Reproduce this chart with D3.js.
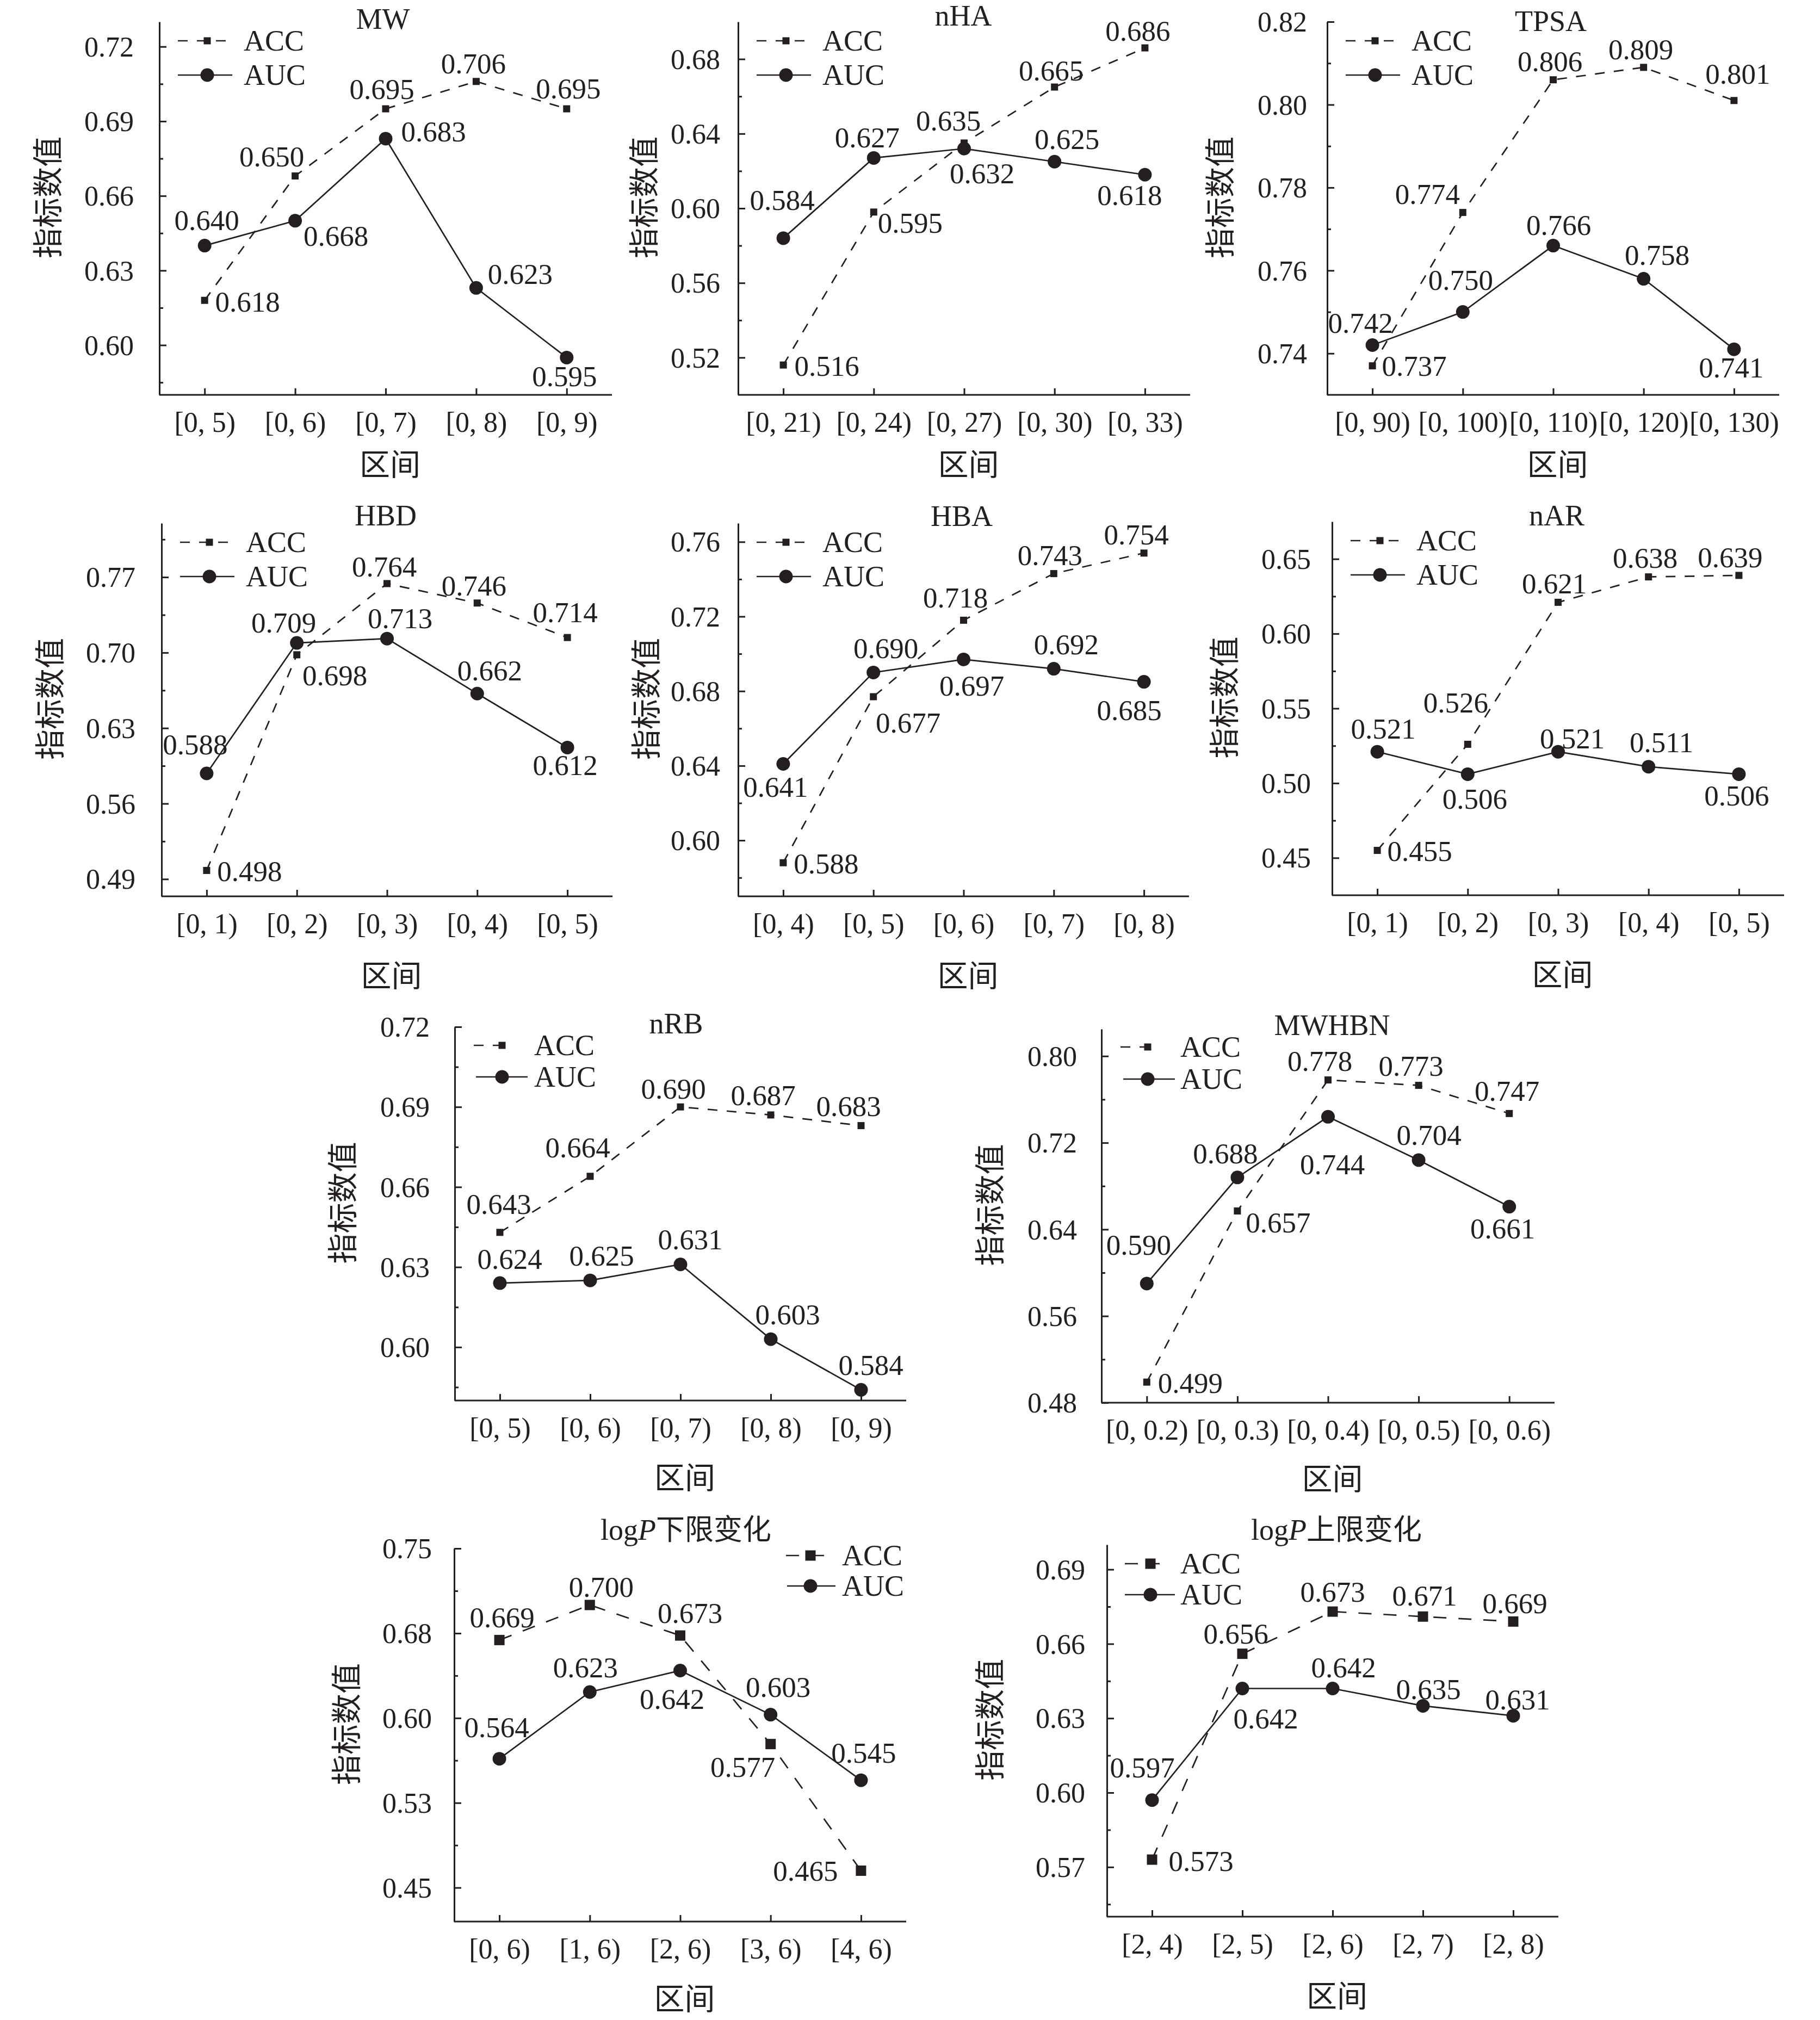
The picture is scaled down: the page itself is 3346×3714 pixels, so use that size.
<!DOCTYPE html>
<html><head><meta charset="utf-8">
<script src="https://cdn.jsdelivr.net/npm/d3@7/dist/d3.min.js"></script>
<style>html,body{margin:0;padding:0;background:#fff}</style>
</head><body>
<svg id="chart" width="3346" height="3714" xmlns="http://www.w3.org/2000/svg"></svg>
<script>
// ---------------- DATA ----------------
const seriesNames = ["ACC", "AUC"];

const catsMW = ["[0, 5)", "[0, 6)", "[0, 7)", "[0, 8)", "[0, 9)"];
const accMW = [0.618, 0.668, 0.695, 0.706, 0.695];
const aucMW = [0.640, 0.650, 0.683, 0.623, 0.595];
const accLabMW = ["0.618", "0.650", "0.695", "0.706", "0.695"];
const aucLabMW = ["0.640", "0.668", "0.683", "0.623", "0.595"];
const ticksMW = [0.60, 0.63, 0.66, 0.69, 0.72];
const domainMW = [0.58, 0.73];

const catsNHA = ["[0, 21)", "[0, 24)", "[0, 27)", "[0, 30)", "[0, 33)"];
const accNHA = [0.516, 0.598, 0.635, 0.665, 0.686];
const aucNHA = [0.584, 0.627, 0.632, 0.625, 0.618];
const accLabNHA = ["0.516", "0.595", "0.635", "0.665", "0.686"];
const aucLabNHA = ["0.584", "0.627", "0.632", "0.625", "0.618"];
const ticksNHA = [0.52, 0.56, 0.60, 0.64, 0.68];
const domainNHA = [0.50, 0.70];

const catsTPSA = ["[0, 90)", "[0, 100)", "[0, 110)", "[0, 120)", "[0, 130)"];
const accTPSA = [0.737, 0.774, 0.806, 0.809, 0.801];
const aucTPSA = [0.742, 0.750, 0.766, 0.758, 0.741];
const accLabTPSA = ["0.737", "0.774", "0.806", "0.809", "0.801"];
const aucLabTPSA = ["0.742", "0.750", "0.766", "0.758", "0.741"];
const ticksTPSA = [0.74, 0.76, 0.78, 0.80, 0.82];
const domainTPSA = [0.73, 0.82];

const catsHBD = ["[0, 1)", "[0, 2)", "[0, 3)", "[0, 4)", "[0, 5)"];
const accHBD = [0.498, 0.698, 0.764, 0.746, 0.714];
const aucHBD = [0.588, 0.709, 0.713, 0.662, 0.612];
const accLabHBD = ["0.498", "0.698", "0.764", "0.746", "0.714"];
const aucLabHBD = ["0.588", "0.709", "0.713", "0.662", "0.612"];
const ticksHBD = [0.49, 0.56, 0.63, 0.70, 0.77];
const domainHBD = [0.474, 0.82];

const catsHBA = ["[0, 4)", "[0, 5)", "[0, 6)", "[0, 7)", "[0, 8)"];
const accHBA = [0.588, 0.677, 0.718, 0.743, 0.754];
const aucHBA = [0.641, 0.690, 0.697, 0.692, 0.685];
const accLabHBA = ["0.588", "0.677", "0.718", "0.743", "0.754"];
const aucLabHBA = ["0.641", "0.690", "0.697", "0.692", "0.685"];
const ticksHBA = [0.60, 0.64, 0.68, 0.72, 0.76];
const domainHBA = [0.57, 0.77];

const catsNAR = ["[0, 1)", "[0, 2)", "[0, 3)", "[0, 4)", "[0, 5)"];
const accNAR = [0.455, 0.526, 0.621, 0.638, 0.639];
const aucNAR = [0.521, 0.506, 0.521, 0.511, 0.506];
const accLabNAR = ["0.455", "0.526", "0.621", "0.638", "0.639"];
const aucLabNAR = ["0.521", "0.506", "0.521", "0.511", "0.506"];
const ticksNAR = [0.45, 0.50, 0.55, 0.60, 0.65];
const domainNAR = [0.425, 0.675];

const catsNRB = ["[0, 5)", "[0, 6)", "[0, 7)", "[0, 8)", "[0, 9)"];
const accNRB = [0.643, 0.664, 0.690, 0.687, 0.683];
const aucNRB = [0.624, 0.625, 0.631, 0.603, 0.584];
const accLabNRB = ["0.643", "0.664", "0.690", "0.687", "0.683"];
const aucLabNRB = ["0.624", "0.625", "0.631", "0.603", "0.584"];
const ticksNRB = [0.60, 0.63, 0.66, 0.69, 0.72];
const domainNRB = [0.58, 0.72];

const catsMWHBN = ["[0, 0.2)", "[0, 0.3)", "[0, 0.4)", "[0, 0.5)", "[0, 0.6)"];
const accMWHBN = [0.499, 0.657, 0.778, 0.773, 0.747];
const aucMWHBN = [0.590, 0.688, 0.744, 0.704, 0.661];
const accLabMWHBN = ["0.499", "0.657", "0.778", "0.773", "0.747"];
const aucLabMWHBN = ["0.590", "0.688", "0.744", "0.704", "0.661"];
const ticksMWHBN = [0.48, 0.56, 0.64, 0.72, 0.80];
const domainMWHBN = [0.48, 0.825];

const catsLow = ["[0, 6)", "[1, 6)", "[2, 6)", "[3, 6)", "[4, 6)"];
const accLow = [0.669, 0.700, 0.673, 0.577, 0.465];
const aucLow = [0.564, 0.623, 0.642, 0.603, 0.545];
const accLabLow = ["0.669", "0.700", "0.673", "0.577", "0.465"];
const aucLabLow = ["0.564", "0.623", "0.642", "0.603", "0.545"];
const ticksLow = [0.45, 0.525, 0.60, 0.675, 0.75];
const tickLabLow = ["0.45", "0.53", "0.60", "0.68", "0.75"];
const domainLow = [0.42, 0.75];

const catsUp = ["[2, 4)", "[2, 5)", "[2, 6)", "[2, 7)", "[2, 8)"];
const accUp = [0.573, 0.656, 0.673, 0.671, 0.669];
const aucUp = [0.597, 0.642, 0.642, 0.635, 0.631];
const accLabUp = ["0.573", "0.656", "0.673", "0.671", "0.669"];
const aucLabUp = ["0.597", "0.642", "0.642", "0.635", "0.631"];
const ticksUp = [0.57, 0.60, 0.63, 0.66, 0.69];
const domainUp = [0.55, 0.70];

const yTitle = "指标数值";
const xTitle = "区间";

// titles: [plain, italic, cjk]
const panels = [
  {title: ["MW", "", ""], cats: catsMW, acc: accMW, auc: aucMW, accLab: accLabMW, aucLab: aucLabMW, ticks: ticksMW, domain: domainMW},
  {title: ["nHA", "", ""], cats: catsNHA, acc: accNHA, auc: aucNHA, accLab: accLabNHA, aucLab: aucLabNHA, ticks: ticksNHA, domain: domainNHA},
  {title: ["TPSA", "", ""], cats: catsTPSA, acc: accTPSA, auc: aucTPSA, accLab: accLabTPSA, aucLab: aucLabTPSA, ticks: ticksTPSA, domain: domainTPSA},
  {title: ["HBD", "", ""], cats: catsHBD, acc: accHBD, auc: aucHBD, accLab: accLabHBD, aucLab: aucLabHBD, ticks: ticksHBD, domain: domainHBD},
  {title: ["HBA", "", ""], cats: catsHBA, acc: accHBA, auc: aucHBA, accLab: accLabHBA, aucLab: aucLabHBA, ticks: ticksHBA, domain: domainHBA},
  {title: ["nAR", "", ""], cats: catsNAR, acc: accNAR, auc: aucNAR, accLab: accLabNAR, aucLab: aucLabNAR, ticks: ticksNAR, domain: domainNAR},
  {title: ["nRB", "", ""], cats: catsNRB, acc: accNRB, auc: aucNRB, accLab: accLabNRB, aucLab: aucLabNRB, ticks: ticksNRB, domain: domainNRB},
  {title: ["MWHBN", "", ""], cats: catsMWHBN, acc: accMWHBN, auc: aucMWHBN, accLab: accLabMWHBN, aucLab: aucLabMWHBN, ticks: ticksMWHBN, domain: domainMWHBN},
  {title: ["log", "P", "下限变化"], cats: catsLow, acc: accLow, auc: aucLow, accLab: accLabLow, aucLab: aucLabLow, ticks: ticksLow, tickLab: tickLabLow, domain: domainLow},
  {title: ["log", "P", "上限变化"], cats: catsUp, acc: accUp, auc: aucUp, accLab: accLabUp, aucLab: aucLabUp, ticks: ticksUp, domain: domainUp}
];

// ---------------- LAYOUT (positions / styles) ----------------
const legStd = {a0: 34, a1: 134, m: 88, b0: 34, b1: 134, t: 155, ya: 35, yb: 98};
const layout = [
  {x0: 293, x1: 1125, yTop: 40, yBot: 726, tx: 704, ty: 53, ytDx: -205, tickPad: 47, xtDy: 128, leg: legStd, sq: 13, dash: "18,17",
   accOff: [[79, 2], [-43, -36], [-7, -37], [-5, -33], [3, -38]],
   aucOff: [[4, -47], [75, 28], [88, -13], [81, -26], [-4, 34]]},
  {x0: 1357, x1: 2188, yTop: 40, yBot: 726, tx: 1771, ty: 47, ytDx: -173, tickPad: 33, xtDy: 128, leg: legStd, sq: 13, dash: "18,17",
   accOff: [[80, 1], [67, 20], [-29, -42], [-6, -31], [-13, -32]],
   aucOff: [[-2, -70], [-12, -38], [33, 45], [23, -42], [-28, 37]]},
  {x0: 2440, x1: 3271, yTop: 40, yBot: 726, tx: 2851, ty: 57, ytDx: -197, tickPad: 37, xtDy: 128, leg: legStd, sq: 13, dash: "18,17",
   accOff: [[77, 0], [-65, -34], [-6, -34], [-5, -33], [7, -49]],
   aucOff: [[-22, -41], [-4, -59], [10, -38], [25, -44], [-5, 33]]},
  {x0: 297, x1: 1126, yTop: 962, yBot: 1648, tx: 709, ty: 966, ytDx: -205, tickPad: 48, xtDy: 146, leg: legStd, sq: 13, dash: "18,17",
   accOff: [[79, 1], [70, 38], [-5, -32], [-6, -32], [-4, -47]],
   aucOff: [[-21, -54], [-24, -38], [24, -38], [23, -43], [-4, 32]]},
  {x0: 1357, x1: 2186, yTop: 962, yBot: 1648, tx: 1768, ty: 967, ytDx: -169, tickPad: 33, xtDy: 146, leg: legStd, sq: 13, dash: "18,17",
   accOff: [[79, 1], [64, 47], [-15, -42], [-7, -34], [-14, -34]],
   aucOff: [[-14, 42], [23, -45], [15, 48], [23, -45], [-27, 52]]},
  {x0: 2449, x1: 3280, yTop: 959, yBot: 1646, tx: 2862, ty: 966, ytDx: -198, tickPad: 39, xtDy: 146, leg: legStd, sq: 13, dash: "18,17",
   accOff: [[78, 1], [-22, -77], [-7, -35], [-6, -35], [-16, -33]],
   aucOff: [[11, -43], [13, 45], [26, -25], [24, -45], [-4, 39]]},
  {x0: 836, x1: 1666, yTop: 1888, yBot: 2575, tx: 1243, ty: 1900, ytDx: -206, tickPad: 46, xtDy: 142,
   leg: {a0: 35, a1: 104, m: 87, b0: 39, b1: 134, t: 146, ya: 34, yb: 92}, sq: 13, dash: "18,17",
   accOff: [[-2, -52], [-23, -53], [-13, -34], [-14, -36], [-23, -36]],
   aucOff: [[18, -45], [21, -46], [18, -46], [31, -46], [18, -46]]},
  {x0: 2025, x1: 2858, yTop: 1892, yBot: 2579, tx: 2449, ty: 1903, ytDx: -205, tickPad: 45, xtDy: 140,
   leg: {a0: 35, a1: 100, m: 85, b0: 40, b1: 135, t: 145, ya: 33, yb: 92}, sq: 13, dash: "18,17",
   accOff: [[80, 1], [75, 21], [-15, -35], [-14, -36], [-4, -42]],
   aucOff: [[-15, -72], [-22, -44], [8, 87], [19, -46], [-12, 40]]},
  {x0: 835, x1: 1666, yTop: 2847, yBot: 3533, tx: 1261, ty: 2831, ytDx: -198, tickPad: 41, xtDy: 142,
   leg: {a0: 610, a1: 685, m: 655, b0: 612, b1: 701, t: 713, ya: 13, yb: 69}, sq: 19, dash: "24,22",
   accOff: [[5, -42], [21, -33], [18, -42], [-51, 42], [-102, 0]],
   aucOff: [[-5, -58], [-8, -46], [-15, 52], [14, -51], [5, -51]]},
  {x0: 2035, x1: 2865, yTop: 2840, yBot: 3524, tx: 2457, ty: 2831, ytDx: -215, tickPad: 40, xtDy: 146,
   leg: {a0: 33, a1: 97, m: 80, b0: 33, b1: 125, t: 135, ya: 35, yb: 92}, sq: 19, dash: "24,22",
   accOff: [[90, 2], [-12, -37], [0, -37], [3, -39], [3, -34]],
   aucOff: [[-18, -60], [43, 55], [20, -39], [10, -31], [8, -30]]}
];

// ---------------- DRAW ----------------
const INK = "#231f20";
const SERIF = "'Liberation Serif','Times New Roman',serif";
const CJK = "'Noto Sans CJK SC','Noto Sans CJK JP',sans-serif";
const NUM_SIZE = 52, LAB_SIZE = 53, LEG_SIZE = 54, TITLE_SIZE = 54, CJK_SIZE = 56;
const LW = 2.7, AXW = 3, R = 12.5;
const fmt = d3.format(".2f");

const svg = d3.select("#chart");
svg.append("rect").attr("width", 3346).attr("height", 3714).attr("fill", "#fff");

panels.forEach((p, k) => {
  const L = layout[k];
  const g = svg.append("g").attr("color", INK);
  const x = d3.scalePoint().domain(p.cats).range([L.x0, L.x1]).padding(0.5);
  const y = d3.scaleLinear().domain(p.domain).range([L.yBot, L.yTop]);

  // minor y ticks (midpoints between majors)
  const step = p.ticks[1] - p.ticks[0];
  const minor = [p.ticks[0] - step / 2].concat(p.ticks.map(t => t + step / 2))
    .filter(v => v > p.domain[0] + 1e-6 && v < p.domain[1] - 1e-6);
  const gMinor = g.append("g").attr("transform", `translate(${L.x0},0)`)
    .call(d3.axisLeft(y).tickValues(minor).tickSizeInner(-7).tickSizeOuter(0).tickFormat(""));
  gMinor.select(".domain").remove();
  gMinor.selectAll("line").attr("stroke-width", AXW);

  // major y axis
  const labs = p.tickLab || p.ticks.map(fmt);
  const gy = g.append("g").attr("transform", `translate(${L.x0},0)`)
    .call(d3.axisLeft(y).tickValues(p.ticks).tickSizeInner(-13).tickSizeOuter(0)
      .tickPadding(L.tickPad).tickFormat((d, i) => labs[i]));
  gy.attr("font-family", SERIF).attr("font-size", NUM_SIZE);
  gy.selectAll("path,line").attr("stroke-width", AXW);
  gy.selectAll("text").attr("fill", INK).attr("dy", "0.34em");

  // x axis
  const gx = g.append("g").attr("transform", `translate(0,${L.yBot})`)
    .call(d3.axisBottom(x).tickSizeInner(-12).tickSizeOuter(0));
  gx.select(".domain").attr("d", `M${L.x0},0H${L.x1}`);
  gx.attr("font-family", SERIF).attr("font-size", NUM_SIZE);
  gx.selectAll("path,line").attr("stroke-width", AXW);
  gx.selectAll("text").attr("fill", INK).attr("y", 68).attr("dy", null);

  // title
  const t = g.append("text").attr("x", L.tx).attr("y", L.ty).attr("text-anchor", "middle")
    .attr("font-family", SERIF).attr("font-size", TITLE_SIZE).attr("fill", INK);
  t.append("tspan").text(p.title[0]);
  if (p.title[1]) t.append("tspan").attr("font-style", "italic").text(p.title[1]);
  if (p.title[2]) t.append("tspan").attr("font-family", CJK).attr("font-size", CJK_SIZE - 3).text(p.title[2]);

  // axis titles
  const midY = (L.yTop + L.yBot) / 2 - 20;
  g.append("text").attr("transform", `translate(${L.x0 + L.ytDx},${midY}) rotate(-90)`)
    .attr("text-anchor", "middle").attr("dy", "0.36em")
    .attr("font-family", CJK).attr("font-size", CJK_SIZE).attr("fill", INK).text(yTitle);
  g.append("text").attr("x", (L.x0 + L.x1) / 2 + 8).attr("y", L.yBot + L.xtDy)
    .attr("text-anchor", "middle").attr("dy", "0.36em")
    .attr("font-family", CJK).attr("font-size", CJK_SIZE).attr("fill", INK).text(xTitle);

  // lines
  const line = d3.line().x((d, i) => x(p.cats[i])).y(d => y(d));
  g.append("path").datum(p.acc).attr("d", line).attr("fill", "none")
    .attr("stroke", INK).attr("stroke-width", LW).attr("stroke-dasharray", L.dash);
  g.append("path").datum(p.auc).attr("d", line).attr("fill", "none")
    .attr("stroke", INK).attr("stroke-width", LW);

  // markers
  g.selectAll(null).data(p.acc).join("rect")
    .attr("x", (d, i) => x(p.cats[i]) - L.sq / 2).attr("y", d => y(d) - L.sq / 2)
    .attr("width", L.sq).attr("height", L.sq).attr("fill", INK);
  g.selectAll(null).data(p.auc).join("circle")
    .attr("cx", (d, i) => x(p.cats[i])).attr("cy", d => y(d)).attr("r", R).attr("fill", INK);

  // value labels
  const addLabels = (vals, texts, offs) => {
    g.selectAll(null).data(vals).join("text")
      .attr("x", (d, i) => x(p.cats[i]) + offs[i][0])
      .attr("y", (d, i) => y(d) + offs[i][1])
      .attr("dy", "0.35em").attr("text-anchor", "middle")
      .attr("font-family", SERIF).attr("font-size", LAB_SIZE).attr("fill", INK)
      .text((d, i) => texts[i]);
  };
  addLabels(p.acc, p.accLab, L.accOff);
  addLabels(p.auc, p.aucLab, L.aucOff);

  // legend
  const lg = L.leg;
  const ya = L.yTop + lg.ya, yb = L.yTop + lg.yb;
  g.append("line").attr("x1", L.x0 + lg.a0).attr("x2", L.x0 + lg.a1).attr("y1", ya).attr("y2", ya)
    .attr("stroke", INK).attr("stroke-width", LW).attr("stroke-dasharray", L.dash);
  g.append("rect").attr("x", L.x0 + lg.m - L.sq / 2).attr("y", ya - L.sq / 2)
    .attr("width", L.sq).attr("height", L.sq).attr("fill", INK);
  g.append("line").attr("x1", L.x0 + lg.b0).attr("x2", L.x0 + lg.b1).attr("y1", yb).attr("y2", yb)
    .attr("stroke", INK).attr("stroke-width", LW);
  g.append("circle").attr("cx", L.x0 + lg.m).attr("cy", yb).attr("r", R).attr("fill", INK);
  [[seriesNames[0], ya], [seriesNames[1], yb]].forEach(([s, yy]) => {
    g.append("text").attr("x", L.x0 + lg.t).attr("y", yy).attr("dy", "0.34em")
      .attr("font-family", SERIF).attr("font-size", LEG_SIZE).attr("fill", INK).text(s);
  });
});
</script>
</body></html>
